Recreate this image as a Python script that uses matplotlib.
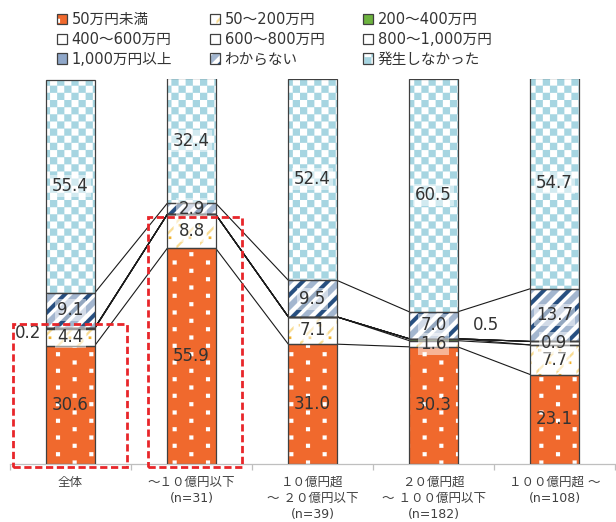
import warnings
import numpy as np
import matplotlib
matplotlib.use("Agg")
import matplotlib.pyplot as plt
import matplotlib.hatch as mhatch
from matplotlib.path import Path
from matplotlib.patches import Rectangle, Patch
from matplotlib.legend_handler import HandlerTuple

warnings.filterwarnings("ignore")

# ---------------------------------------------------------------- data
categories = [
    "全体",
    "～１０億円以下\n(n=31)",
    "１０億円超\n～ ２０億円以下\n(n=39)",
    "２０億円超\n～ １００億円以下\n(n=182)",
    "１００億円超 ～\n(n=108)",
]
series_names = [
    "50万円未満", "50～200万円", "200～400万円",
    "400～600万円", "600～800万円", "800～1,000万円",
    "1,000万円以上", "わからない", "発生しなかった",
]
under_50 = [30.6, 55.9, 31.0, 30.3, 23.1]
from_50_to_200 = [4.4, 8.8, 7.1, 1.6, 7.7]
from_200_to_400 = [0.2, 0.0, 0.0, 0.5, 0.0]
from_400_to_600 = [0.0, 0.0, 0.0, 0.0, 0.9]
from_600_to_800 = [0.0, 0.0, 0.0, 0.0, 0.0]
from_800_to_1000 = [0.0, 0.0, 0.0, 0.0, 0.0]
over_1000 = [0.0, 0.0, 0.0, 0.0, 0.0]
unknown = [9.1, 2.9, 9.5, 7.0, 13.7]
not_occurred = [55.4, 32.4, 52.4, 60.5, 54.7]

series_values = [under_50, from_50_to_200, from_200_to_400, from_400_to_600,
                 from_600_to_800, from_800_to_1000, over_1000, unknown,
                 not_occurred]


# ------------------------------------------------- custom fill patterns
class _PolyHatch(mhatch.HatchPatternBase):
    """Hatch made of filled quadrilaterals inside one repeat tile."""
    key = ""
    polys = []

    def __init__(self, hatch, density):
        on = bool(hatch) and self.key in hatch
        self.num_vertices = len(self.polys) * 5 if on else 0

    def set_vertices_and_codes(self, vertices, codes):
        for i, poly in enumerate(self.polys):
            j = i * 5
            vertices[j:j + 4] = poly
            vertices[j + 4] = poly[0]
            codes[j] = Path.MOVETO
            codes[j + 1:j + 4] = Path.LINETO
            codes[j + 4] = Path.CLOSEPOLY


def _square(cx, cy, s):
    h = s / 2
    return [(cx - h, cy - h), (cx + h, cy - h), (cx + h, cy + h), (cx - h, cy + h)]


def _band(c0, c1, x0=-0.3, x1=1.3):
    return [(x0, x0 + c0), (x1, x1 + c0), (x1, x1 + c1), (x0, x0 + c1)]


def _dash(cx, cy, length, thick):
    a = length / 2
    t = thick / 2
    return [(cx - a, cy - a - t), (cx + a, cy + a - t),
            (cx + a, cy + a + t), (cx - a, cy - a + t)]


def _make_hatch(key, polys):
    cls = type("Hatch_" + key, (_PolyHatch,), {"key": key, "polys": polys})
    mhatch._hatch_types.append(cls)


# white square dots
_make_hatch("k", [_square((c + 0.5 * (r % 2)) / 3 + 0.08, (r + 0.5) / 12, 0.04)
                  for r in range(12) for c in range(3)])
# checkerboard
_n = 14
_make_hatch("c", [[(i / _n, j / _n), ((i + 1) / _n, j / _n),
                   ((i + 1) / _n, (j + 1) / _n), (i / _n, (j + 1) / _n)]
                  for i in range(_n) for j in range(_n) if (i + j) % 2 == 0])
# wide diagonal bands (light) and narrow diagonal bands (dark)
_make_hatch("l", [_band(k / 4, k / 4 + 0.08) for k in range(-6, 6)])
_make_hatch("n", [_band(k / 4 + 0.13, k / 4 + 0.185) for k in range(-6, 6)])
# short diagonal dashes
_make_hatch("y", [_dash((c + 0.5 * (r % 2)) / 5, (r + 0.5) / 8, 0.07, 0.03)
                  for r in range(8) for c in range(5)])
_make_hatch("g", [_square((c + 0.5 * (r % 2)) / 5 + 0.1, (r + 0.5) / 8 + 0.06, 0.025)
                  for r in range(8) for c in range(5)])

plt.rcParams["hatch.linewidth"] = 0.1
plt.rcParams["font.family"] = ["DejaVu Sans", "Noto Sans CJK JP"]

ORANGE = "#F0692D"
EDGE = "#404040"
# layers per series: (face colour, hatch, hatch colour)
series_styles = [
    [(ORANGE, "k", "white")],
    [("white", "y", "#F9DC93"), ("none", "g", "#F0B22E")],
    [("#6DB33F", None, "#6DB33F")],
    [("white", None, "white")],
    [("white", None, "white")],
    [("white", None, "white")],
    [("#8FA7C9", None, "#8FA7C9")],
    [("white", "l", "#A3B6CF"), ("none", "n", "#274F80")],
    [("white", "c", "#A6D5E1")],
]

# ---------------------------------------------------------------- figure
fig = plt.figure(figsize=(6.16, 5.22), dpi=100)
W, H = 616, 522
ax = fig.add_axes([10 / W, (H - 463.5) / H, 605 / W, 385 / H])

x = np.arange(len(categories))
width = 0.4
bottom = np.zeros(len(categories))
tops = []
for vals, layers in zip(series_values, series_styles):
    vals = np.asarray(vals, dtype=float)
    for fc, hatch, hc in layers:
        ax.bar(x, vals, width, bottom=bottom, color=fc, hatch=hatch,
               edgecolor=hc, linewidth=0, zorder=2)
    ax.bar(x, vals, width, bottom=bottom, fill=False, edgecolor=EDGE,
           linewidth=0.9, zorder=3)
    bottom = bottom + vals
    tops.append(bottom.copy())

# series lines between neighbouring columns
for top in tops[:-1]:
    for i in range(len(x) - 1):
        ax.plot([x[i] + width / 2, x[i + 1] - width / 2], [top[i], top[i + 1]],
                color="#1a1a1a", lw=0.8, zorder=1, solid_capstyle="butt")

# value labels (translucent white plate on patterned segments)
label_moves = {(2, 0): (-0.35, 34.0), (2, 3): (3.43, 36.0)}
base = np.zeros(len(categories))
for s, vals in enumerate(series_values):
    for i, v in enumerate(vals):
        if v > 0:
            if (s, i) in label_moves:
                lx, ly = label_moves[(s, i)]
                box = None
            else:
                lx, ly = x[i], base[i] + v / 2
                box = None if s == 0 else dict(boxstyle="square,pad=0.12",
                                               fc="white", ec="none", alpha=0.5)
            ax.text(lx, ly, f"{v:.1f}", ha="center", va="center",
                    fontsize=12, color="#333333", bbox=box, zorder=5)
    base = base + np.asarray(vals, dtype=float)

# highlight frames
for (x0, x1, y0, y1) in [(-0.478, 0.464, -0.83, 36.2), (0.643, 1.415, -0.83, 64.0)]:
    ax.add_patch(Rectangle((x0, y0), x1 - x0, y1 - y0, fill=False,
                           edgecolor="#E8262A", lw=2, linestyle=(0, (2.6, 1.3)),
                           zorder=6, clip_on=False))

ax.set_xlim(-0.5, len(categories) - 0.5)
ax.set_ylim(0, 100)
ax.set_xticks(x, categories, fontsize=9, color="#404040", linespacing=1.3)
ax.set_xticks(np.arange(len(categories) + 1) - 0.5, minor=True)
ax.tick_params(axis="x", which="major", length=0, pad=9)
ax.tick_params(axis="x", which="minor", length=4, color="#BFBFBF", width=0.9)
ax.set_yticks([])
for side in ["left", "right", "top"]:
    ax.spines[side].set_visible(False)
ax.spines["bottom"].set_color("#BFBFBF")
ax.spines["bottom"].set_linewidth(0.9)

# legend, three columns laid out row by row
handles = []
for layers in series_styles:
    parts = [Patch(facecolor=fc, hatch=h, edgecolor=hc, linewidth=0)
             for fc, h, hc in layers]
    parts.append(Patch(fill=False, edgecolor=EDGE, linewidth=0.9))
    handles.append(tuple(parts))

col_x = [57, 210, 363]
for c in range(3):
    idx = [c, c + 3, c + 6]
    fig.legend([handles[i] for i in idx], [series_names[i] for i in idx],
               loc="upper left", bbox_to_anchor=(col_x[c] / W, 1 - 12 / H),
               frameon=False, fontsize=10.5, handlelength=0.7,
               handleheight=0.7, handletextpad=0.3, borderpad=0,
               borderaxespad=0, labelspacing=0.33, labelcolor="#333333",
               handler_map={tuple: HandlerTuple(ndivide=1, pad=0)})

fig.savefig("out.png", dpi=100)
